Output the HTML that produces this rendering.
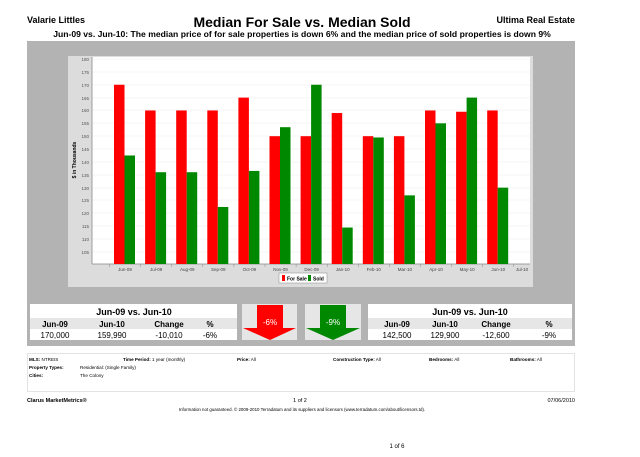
<!DOCTYPE html>
<html><head><meta charset="utf-8"><style>
body{margin:0;background:#fff;}
svg text{font-family:"Liberation Sans",sans-serif;}
</style></head><body>
<svg width="640" height="452" viewBox="0 0 640 452" xmlns="http://www.w3.org/2000/svg">
<text x="27" y="23" font-size="9" font-weight="bold">Valarie Littles</text>
<text x="575" y="23" font-size="9" font-weight="bold" text-anchor="end">Ultima Real Estate</text>
<text x="302" y="27" font-size="14" font-weight="bold" text-anchor="middle">Median For Sale vs. Median Sold</text>
<text x="302" y="37" font-size="8.6" font-weight="bold" text-anchor="middle">Jun-09 vs. Jun-10:  The median price of for sale properties is down 6% and the median price of sold properties is down 9%</text>
<rect x="27" y="41" width="548" height="305" fill="#b3b3b3"/>
<rect x="68" y="56" width="465" height="231" fill="#dcdcdc"/>
<rect x="92" y="57" width="438" height="207" fill="#fff"/>
<g stroke="#eee" stroke-width="0.6">
<line x1="92" x2="530" y1="59" y2="59"/><line x1="92" x2="530" y1="72" y2="72"/><line x1="92" x2="530" y1="85" y2="85"/><line x1="92" x2="530" y1="98" y2="98"/><line x1="92" x2="530" y1="110" y2="110"/><line x1="92" x2="530" y1="123" y2="123"/><line x1="92" x2="530" y1="136" y2="136"/><line x1="92" x2="530" y1="149" y2="149"/><line x1="92" x2="530" y1="162" y2="162"/><line x1="92" x2="530" y1="175" y2="175"/><line x1="92" x2="530" y1="188" y2="188"/><line x1="92" x2="530" y1="200" y2="200"/><line x1="92" x2="530" y1="213" y2="213"/><line x1="92" x2="530" y1="226" y2="226"/><line x1="92" x2="530" y1="239" y2="239"/><line x1="92" x2="530" y1="252" y2="252"/>
</g>
<line x1="92" y1="57" x2="92" y2="264" stroke="#888" stroke-width="0.8"/>
<line x1="92" y1="264" x2="530" y2="264" stroke="#888" stroke-width="0.8"/>
<g font-size="4.5" fill="#555" text-anchor="end">
<text x="89" y="61">180</text><text x="89" y="74">175</text><text x="89" y="87">170</text><text x="89" y="100">165</text><text x="89" y="112">160</text><text x="89" y="125">155</text><text x="89" y="138">150</text><text x="89" y="151">145</text><text x="89" y="164">140</text><text x="89" y="177">135</text><text x="89" y="190">130</text><text x="89" y="202">125</text><text x="89" y="215">120</text><text x="89" y="228">115</text><text x="89" y="241">110</text><text x="89" y="254">105</text>
</g>
<text transform="translate(76,160) rotate(-90)" font-size="5" font-weight="bold" text-anchor="middle">$ in Thousands</text>
<g id="bars"></g>
<g font-size="4.5" fill="#444" text-anchor="middle" id="ticks"></g>
<rect x="279" y="273" width="48" height="10" fill="#fff" stroke="#888" stroke-width="0.5"/>
<rect x="282" y="275" width="3" height="6" fill="#f00"/><text x="287" y="280.5" font-size="5" font-weight="bold">For Sale</text>
<rect x="308" y="275" width="3" height="6" fill="#080"/><text x="313" y="280.5" font-size="5" font-weight="bold">Sold</text>

<rect x="30" y="304" width="207" height="36" fill="#fff"/>
<rect x="30" y="318" width="207" height="11" fill="#e6e6e6"/>
<text x="134" y="315" font-size="9" font-weight="bold" text-anchor="middle">Jun-09 vs. Jun-10</text>
<g font-size="8" font-weight="bold" text-anchor="middle"><text x="55" y="327">Jun-09</text><text x="112" y="327">Jun-10</text><text x="169" y="327">Change</text><text x="210" y="327">%</text></g>
<g font-size="8" text-anchor="middle"><text x="55" y="338">170,000</text><text x="112" y="338">159,990</text><text x="169" y="338">-10,010</text><text x="210" y="338">-6%</text></g>
<rect x="242" y="304" width="55" height="36" fill="#e6e6e6"/>
<polygon points="257,305 283,305 283,328 296,328 270,340 243,328 257,328" fill="#f00"/>
<text x="270" y="325" font-size="8" fill="#fff" text-anchor="middle">-6%</text>
<rect x="305" y="304" width="56" height="36" fill="#e6e6e6"/>
<polygon points="320,305 346,305 346,328 360,328 333,340 306,328 320,328" fill="#080"/>
<text x="333" y="325" font-size="8" fill="#fff" text-anchor="middle">-9%</text>
<rect x="368" y="304" width="204" height="36" fill="#fff"/>
<rect x="368" y="318" width="204" height="11" fill="#e6e6e6"/>
<text x="470" y="315" font-size="9" font-weight="bold" text-anchor="middle">Jun-09 vs. Jun-10</text>
<g font-size="8" font-weight="bold" text-anchor="middle"><text x="397" y="327">Jun-09</text><text x="445" y="327">Jun-10</text><text x="496" y="327">Change</text><text x="549" y="327">%</text></g>
<g font-size="8" text-anchor="middle"><text x="397" y="338">142,500</text><text x="445" y="338">129,900</text><text x="496" y="338">-12,600</text><text x="549" y="338">-9%</text></g>

<rect x="27.5" y="353.5" width="547" height="38" fill="#fff" stroke="#ddd" stroke-width="0.8"/>
<g font-size="4.6">
<text x="29" y="361"><tspan font-weight="bold">MLS:</tspan> NTREIS</text>
<text x="123" y="361"><tspan font-weight="bold">Time Period:</tspan>  1 year (monthly)</text>
<text x="237" y="361"><tspan font-weight="bold">Price:</tspan>  All</text>
<text x="333" y="361"><tspan font-weight="bold">Construction Type:</tspan>  All</text>
<text x="429" y="361"><tspan font-weight="bold">Bedrooms:</tspan>  All</text>
<text x="510" y="361"><tspan font-weight="bold">Bathrooms:</tspan>  All</text>
<text x="29" y="369" font-weight="bold">Property Types:</text><text x="80" y="369">Residential: (Single Family)</text>
<text x="29" y="377" font-weight="bold">Cities:</text><text x="80" y="377">The Colony</text>
</g>
<text x="27" y="402" font-size="5.5" font-weight="bold">Clarus MarketMetrics®</text>
<text x="300" y="402" font-size="5.5" text-anchor="middle">1 of 2</text>
<text x="575" y="402" font-size="5.5" text-anchor="end">07/06/2010</text>
<text x="302" y="411" font-size="4.4" text-anchor="middle">Information not guaranteed.  © 2009-2010 Terradatum and its suppliers and licensors (www.terradatum.com/about/licensors.td).</text>
<text x="397" y="448" font-size="6" text-anchor="middle">1 of 6</text>
</svg>
<script>
var s=[170,160,160,160,165,150,150,159,150,150,160,159.5,160];
var d=[142.5,136,136,122.5,136.5,153.5,170,114.5,149.5,127,155,165,130];
var m=["Jun-09","Jul-09","Aug-09","Sep-09","Oct-09","Nov-09","Dec-09","Jan-10","Feb-10","Mar-10","Apr-10","May-10","Jun-10","Jul-10"];
var ns="http://www.w3.org/2000/svg",g=document.getElementById("bars"),t=document.getElementById("ticks");
function y(v){return 59+(180-v)*2.573;}
function r(x,v,c){var e=document.createElementNS(ns,"rect");e.setAttribute("x",x);e.setAttribute("y",y(v));e.setAttribute("width",10.5);e.setAttribute("height",264-y(v));e.setAttribute("fill",c);g.appendChild(e);}
for(var i=0;i<13;i++){var x=114+i*31.1;r(x,s[i],"#f00");r(x+10.5,d[i],"#080");}
for(var i=0;i<14;i++){var cx=(i==13)?522:125+i*31.1;var e=document.createElementNS(ns,"text");e.setAttribute("x",cx);e.setAttribute("y",271);e.textContent=m[i];t.appendChild(e);
var l=document.createElementNS(ns,"line");var lx=125+i*31.1-15.5;l.setAttribute("x1",lx);l.setAttribute("x2",lx);l.setAttribute("y1",264);l.setAttribute("y2",267);l.setAttribute("stroke","#888");l.setAttribute("stroke-width","0.5");t.appendChild(l);}
</script>
</body></html>
